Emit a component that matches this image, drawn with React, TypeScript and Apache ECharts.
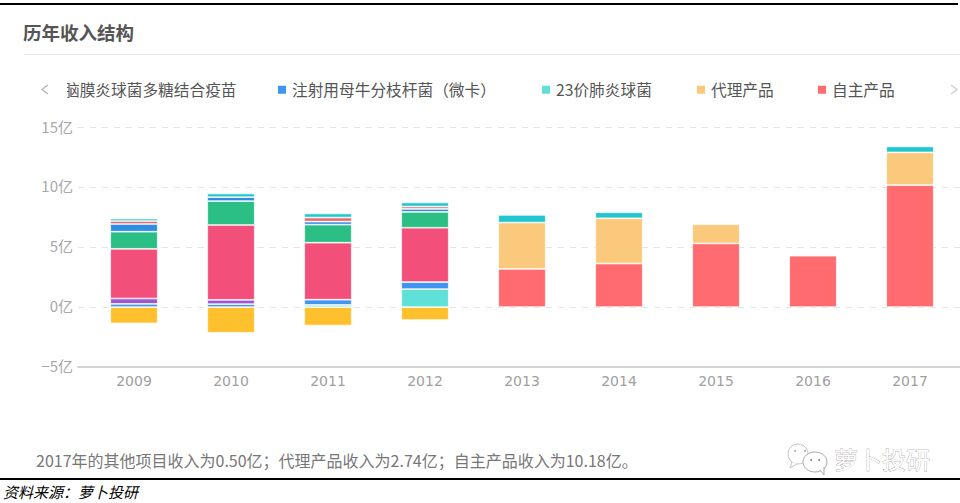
import React, { useEffect, useRef } from "react";
import * as echarts from "echarts";

const years = ["2009", "2010", "2011", "2012", "2013", "2014", "2015", "2016", "2017"];
const ownProducts = [0, 0, 0, 0, 3.19, 3.64, 5.32, 4.29, 10.18];
const agencyProducts = [0, 0, 0, 0, 3.87, 3.78, 1.6, 0, 2.74];
const pneumo23 = [0, 0, 0.18, 1.5, 0, 0, 0, 0, 0];
const bcgVaccae = [0.27, 0.25, 0.44, 0.59, 0, 0, 0, 0, 0];
const meningococcal = [0.45, 0.36, 0, 0, 0, 0, 0, 0, 0];
const unnamedPink = [4.15, 6.25, 4.76, 4.54, 0, 0, 0, 0, 0];
const unnamedGreen = [1.43, 1.99, 1.51, 1.32, 0, 0, 0, 0, 0];
const unnamedBlue = [0.64, 0.33, 0.25, 0.25, 0, 0, 0, 0, 0];
const unnamedRed = [0.25, 0, 0.34, 0.2, 0, 0, 0, 0, 0];
const otherItems = [0.2, 0.31, 0.34, 0.34, 0.64, 0.5, 0, 0, 0.5];
const unnamedNegative = [-1.36, -2.14, -1.54, -1.08, 0, 0, 0, 0, 0];

const seriesList: [string, number[], string][] = [
  ["自主产品", ownProducts, "#FF6B6F"],
  ["代理产品", agencyProducts, "#FBC97C"],
  ["23价肺炎球菌", pneumo23, "#5FE0D8"],
  ["注射用母牛分枝杆菌（微卡）", bcgVaccae, "#3F96F0"],
  ["脑膜炎球菌多糖结合疫苗", meningococcal, "#9B59D0"],
  ["产品A", unnamedPink, "#F2507B"],
  ["产品B", unnamedGreen, "#2BBF85"],
  ["产品C", unnamedBlue, "#2F8CE0"],
  ["产品D", unnamedRed, "#E86C6C"],
  ["其他项目", otherItems, "#22C6CE"],
  ["产品E", unnamedNegative, "#FFC02E"],
];

const title = "历年收入结构";
const caption = "2017年的其他项目收入为0.50亿；代理产品收入为2.74亿；自主产品收入为10.18亿。";
const source = "资料来源：萝卜投研";
const brand = "萝卜投研";
const cjk = '"Noto Sans CJK SC", sans-serif';

const legendSlots: [string, number, boolean][] = [
  ["脑膜炎球菌多糖结合疫苗", 59, false],
  ["注射用母牛分枝杆菌（微卡）", 276, true],
  ["23价肺炎球菌", 540, true],
  ["代理产品", 695, true],
  ["自主产品", 816, true],
];

export default function App() {
  const ref = useRef<HTMLDivElement>(null);
  useEffect(() => {
    const chart = echarts.init(ref.current!, undefined, { renderer: "svg" });
    chart.setOption({
      animation: false,
      backgroundColor: "#fff",
      grid: [
        { left: 85.5, width: 873, top: 127.5, height: 239.5 },
        { left: 78, width: 882, top: 127.5, height: 239.5 },
      ],
      xAxis: [
        {
          type: "category",
          gridIndex: 0,
          data: years,
          axisLine: { show: false },
          axisTick: { show: false },
          position: "bottom",
          axisLabel: { color: "#a0a0a0", fontSize: 14, margin: 7, fontFamily: '"DejaVu Sans", sans-serif' },
          z: 3,
        },
        {
          type: "value",
          gridIndex: 1,
          min: 0,
          max: 1,
          axisLine: { onZero: false, show: true, lineStyle: { color: "#d4d4d4", width: 2 } },
          axisTick: { show: false },
          axisLabel: { show: false },
          splitLine: { show: false },
        },
      ],
      yAxis: [
        {
          type: "value",
          gridIndex: 0,
          min: -5,
          max: 15,
          interval: 5,
          axisLine: { show: false },
          axisTick: { show: false },
          axisLabel: { show: false },
          splitLine: { show: false },
        },
        {
          type: "value",
          gridIndex: 1,
          min: -5,
          max: 15,
          interval: 5,
          axisLine: { show: false },
          axisTick: { show: false },
          axisLabel: {
            color: "#a8a8a8",
            fontSize: 15,
            margin: 5,
            verticalAlign: "bottom",
            lineHeight: 3,
            fontFamily: cjk,
            formatter: (v: number) => `${v < 0 ? "−" + -v : v}亿`,
          },
          splitLine: {
            show: true,
            showMinLine: false,
            lineStyle: { color: "#e4e4e4", type: [6, 6], width: 1 },
          },
        },
      ],
      legend: legendSlots.map(([name, left, marker]) => ({
        data: [{ name, icon: marker ? "rect" : "none" }],
        left,
        top: 82,
        padding: 0,
        itemWidth: marker ? 10 : 0,
        itemHeight: 10,
        selectedMode: false,
        textStyle: { color: "#555", fontSize: 15.7, fontFamily: cjk },
      })),
      series: seriesList.map(([name, data, color]) => ({
        name,
        type: "bar",
        stack: "income",
        xAxisIndex: 0,
        yAxisIndex: 0,
        barWidth: 47.5,
        data: data.map((v) => (v === 0 ? null : v)),
        itemStyle: { color, borderColor: "#fff", borderWidth: 0.7 },
      })),
      graphic: [
        { type: "rect", shape: { x: 0, y: 3, width: 958, height: 2 }, style: { fill: "#000" } },
        { type: "rect", shape: { x: 0, y: 478, width: 960, height: 2 }, style: { fill: "#000" } },
        { type: "rect", shape: { x: 24, y: 54, width: 936, height: 1 }, style: { fill: "#e8e8e8" } },
        {
          type: "text",
          x: 23,
          y: 31.5,
          style: { text: title, fill: "#555", fontSize: 18.5, fontWeight: "bold", fontFamily: cjk, verticalAlign: "middle" },
        },
        { type: "rect", z: 50, shape: { x: 52, y: 80, width: 15, height: 24 }, style: { fill: "#fff" } },
        { type: "polyline", shape: { points: [[48, 85], [42, 89.5], [48, 94]] }, style: { stroke: "#b8b8b8", lineWidth: 1.5, fill: "none" } },
        { type: "polyline", shape: { points: [[951, 85], [957, 89.5], [951, 94]] }, style: { stroke: "#d0d0d0", lineWidth: 1.5, fill: "none" } },
        {
          type: "text",
          x: 36,
          y: 460,
          style: { text: caption, fill: "#777", fontSize: 16, fontFamily: cjk, verticalAlign: "middle" },
        },
        {
          type: "text",
          x: 3,
          y: 491,
          style: { text: source, fill: "#000", fontSize: 15, fontStyle: "italic", fontFamily: cjk, verticalAlign: "middle" },
        },
        { type: "circle", shape: { cx: 798, cy: 454, r: 10 }, style: { fill: "#fff", stroke: "#c4c4c4", lineWidth: 1 } },
        { type: "polyline", shape: { points: [[792, 462], [790, 468], [797, 464]] }, style: { fill: "#fff", stroke: "#c4c4c4", lineWidth: 1 } },
        { type: "ellipse", shape: { cx: 815, cy: 462, rx: 12, ry: 10 }, style: { fill: "#fff", stroke: "#aaa", lineWidth: 1 } },
        { type: "polyline", shape: { points: [[820, 470], [824, 475], [824, 467]] }, style: { fill: "#fff", stroke: "#aaa", lineWidth: 1 } },
        { type: "circle", shape: { cx: 795, cy: 451, r: 1 }, style: { fill: "#aaa" } },
        { type: "circle", shape: { cx: 805, cy: 451, r: 1 }, style: { fill: "#aaa" } },
        { type: "circle", shape: { cx: 811, cy: 460, r: 1 }, style: { fill: "#888" } },
        { type: "circle", shape: { cx: 819, cy: 460, r: 1 }, style: { fill: "#888" } },
        {
          type: "text",
          x: 834,
          y: 458.5,
          style: { text: brand, fill: "#fff", stroke: "#777", lineWidth: 0.5, fontSize: 24, fontFamily: cjk, verticalAlign: "middle" },
        },
      ],
    });
    return () => chart.dispose();
  }, []);
  return <div ref={ref} style={{ position: "absolute", left: 0, top: 0, width: 960, height: 503 }} />;
}
